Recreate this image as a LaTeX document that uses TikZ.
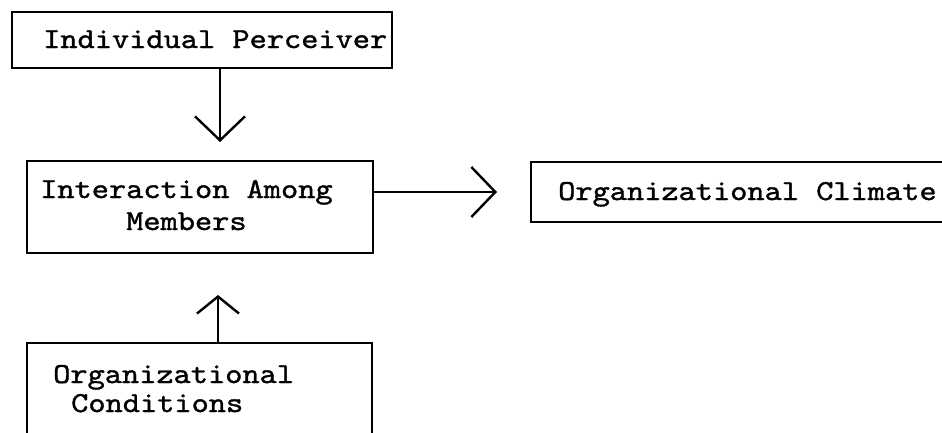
\documentclass[tikz,border=0pt]{standalone}
\usepackage{fontspec}
\setmonofont[Extension=.otf, FakeBold=1.2, FakeStretch=1.13]{lmmono10-regular}
\usetikzlibrary{arrows.meta}
\begin{document}
\begin{tikzpicture}[x=1pt, y=-1pt,
  box/.style={draw, line width=1.6pt, inner sep=0pt},
  txt/.style={font=\fontsize{29}{32}\selectfont\ttfamily, inner sep=0pt, anchor=base west},
  flow/.style={line width=1.8pt, -{Straight Barb[length=24pt, width=50pt, line width=2.4pt]}},
  flowshort/.style={line width=1.8pt, -{Straight Barb[length=17pt, width=42pt, line width=2.4pt]}}]
  \useasboundingbox (0,0) rectangle (942,432);
  \clip (0,0) rectangle (942,432);

  % boxes
  \node[box, minimum width=380pt, minimum height=56pt]  (perc) at (202,40) {};
  \node[box, minimum width=346pt, minimum height=92pt]  (inter) at (200,207) {};
  \node[box, minimum width=429pt, minimum height=60pt]  (clim) at (745.5,192) {};
  \node[box, minimum width=345pt, minimum height=117pt] (cond) at (199.5,401.5) {};

  % labels
  \node[txt] (percT) at (43,48) {Individual Perceiver};
  \node[txt] (interT1) at (40,198) {Interaction Among};
  \node[txt] (interT2) at (126,230) {Members};
  \node[txt] (climT) at (558,200) {Organizational Climate};
  \node[txt] (condT1) at (53,383) {Organizational};
  \node[txt] (condT2) at (71,412) {Conditions};

  % connectors
  \coordinate (tipA) at (220,142);
  \coordinate (tipB) at (497,192);
  \coordinate (tipC) at (218,295);
  \draw[flow] (perc.south -| tipA) -- (tipA);
  \draw[flow] (inter.east |- tipB) -- (tipB);
  \draw[flowshort] (cond.north -| tipC) -- (tipC);
\end{tikzpicture}
\end{document}
